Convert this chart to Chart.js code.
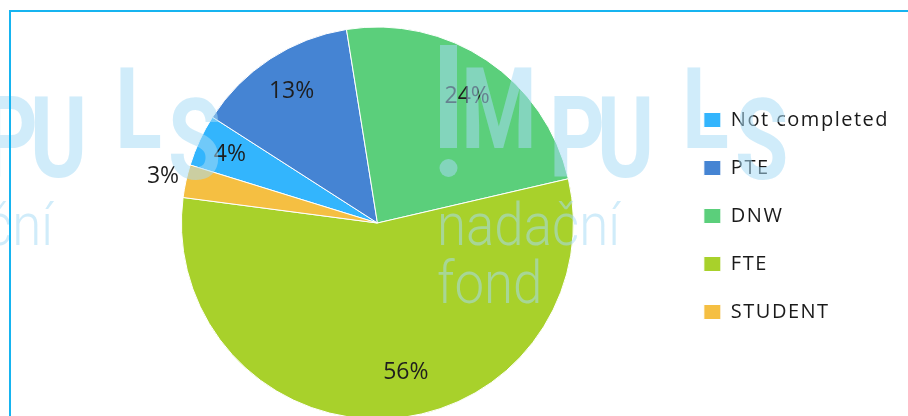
<!DOCTYPE html>
<html>
<head>
<meta charset="utf-8">
<script src="https://cdn.jsdelivr.net/npm/chart.js@4"></script>
<style>
  html, body { margin: 0; padding: 0; background: #fff; overflow: hidden; }
  #wrap { position: relative; width: 908px; height: 416px; overflow: hidden; }
  #chart { position: absolute; left: 0; top: 0; }
  #frame {
    position: absolute; left: 9px; top: 10px; right: -10px; bottom: -10px;
    border-left: 2px solid #16b4f0; border-top: 2px solid #16b4f0;
    pointer-events: none;
  }
</style>
</head>
<body>
<div id="wrap">
  <canvas id="chart" width="908" height="432"></canvas>
  <div id="frame"></div>
</div>
<script>
const labels = ["Not completed", "PTE", "DNW", "FTE", "STUDENT"];
const shares = [4.3, 13.4, 23.9, 55.7, 2.7];
const colors = ["#33b5fd", "#4584d3", "#5bcf7b", "#a8d12b", "#f5bf42"];

// legend text in the original is widely tracked
const legendSpacing = {
  id: 'legendSpacing',
  beforeLayout(chart) { chart.ctx.letterSpacing = '1.5px'; },
  beforeDraw(chart) { chart.ctx.letterSpacing = '1.5px'; }
};

// percentage labels on the slices
const percentLabels = {
  id: 'percentLabels',
  afterDatasetsDraw(chart, args, opts) {
    const ctx = chart.ctx;
    const meta = chart.getDatasetMeta(0);
    const total = shares.reduce((a, b) => a + b, 0);
    ctx.save();
    ctx.letterSpacing = '0px';
    ctx.font = opts.font;
    ctx.fillStyle = opts.color;
    ctx.textAlign = 'center';
    ctx.textBaseline = 'middle';
    meta.data.forEach((arc, i) => {
      const p = arc.getProps(['x', 'y', 'startAngle', 'endAngle', 'outerRadius'], true);
      const mid = (p.startAngle + p.endAngle) / 2 + opts.shift[i] * Math.PI / 180;
      const r = p.outerRadius * opts.radial[i];
      ctx.fillText(Math.round(shares[i] / total * 100) + '%', p.x + Math.cos(mid) * r, p.y + Math.sin(mid) * r);
    });
    ctx.restore();
  }
};

function drawScaled(ctx, text, font, x, y, sx) {
  ctx.save();
  ctx.font = font;
  ctx.translate(x, y);
  ctx.scale(sx, 1);
  ctx.fillText(text, 0, 0);
  ctx.restore();
}

// the "IMPULS nadacni fond" logo lying over the chart (bouncing capitals)
const logoLetters = [
  { ch: 'M', dx: 24, base: 148 },
  { ch: 'P', dx: 112, base: 177 },
  { ch: 'U', dx: 160, base: 177 },
  { ch: 'L', dx: 245, base: 148 },
  { ch: 'S', dx: 298, base: 179 }
];

const watermark = {
  id: 'watermark',
  afterDraw(chart, args, opts) {
    const ctx = chart.ctx;
    ctx.save();
    ctx.letterSpacing = '0px';
    ctx.fillStyle = opts.color;
    ctx.textBaseline = 'alphabetic';
    const bigFont = '700 114px Roboto';
    const smallFont = '300 60px Roboto';
    ctx.font = smallFont;
    const sSmall = 183 / ctx.measureText('nadační').width;
    opts.origins.forEach(ox => {
      ctx.fillRect(ox + 3, 45, 17, 103);
      ctx.beginPath();
      ctx.arc(ox + 11.5, 168, 9, 0, Math.PI * 2);
      ctx.fill();
      logoLetters.forEach(l => drawScaled(ctx, l.ch, bigFont, ox + l.dx, l.base, 0.76));
      drawScaled(ctx, 'nadační', smallFont, ox, 245, sSmall);
      drawScaled(ctx, 'fond', smallFont, ox, 303, sSmall);
    });
    ctx.restore();
  }
};

new Chart(document.getElementById('chart'), {
  type: 'pie',
  data: {
    labels: labels,
    datasets: [{
      data: shares,
      backgroundColor: colors,
      borderColor: '#ffffff',
      borderWidth: 1
    }]
  },
  options: {
    responsive: false,
    animation: false,
    rotation: -72.8,
    radius: 196,
    layout: { padding: { left: 79, right: 9, top: 0, bottom: 0 } },
    plugins: {
      title: { display: true, text: ' ', font: { size: 10, lineHeight: 1.2 }, padding: { top: 0, bottom: 2 } },
      tooltip: { enabled: false },
      legend: {
        position: 'right',
        labels: {
          boxWidth: 17,
          boxHeight: 15,
          padding: 28,
          color: '#1a1a1a',
          font: { family: 'Open Sans', size: 20 }
        }
      },
      percentLabels: {
        font: '23px "Open Sans"',
        color: '#1e1e1e',
        radial: [0.83, 0.8, 0.79, 0.775, 1.12],
        shift: [0, 0, 1.5, -8, 0]
      },
      watermark: {
        color: 'rgba(166, 219, 245, 0.53)',
        origins: [437, -130]
      }
    }
  },
  plugins: [legendSpacing, percentLabels, watermark]
});
</script>
</body>
</html>
